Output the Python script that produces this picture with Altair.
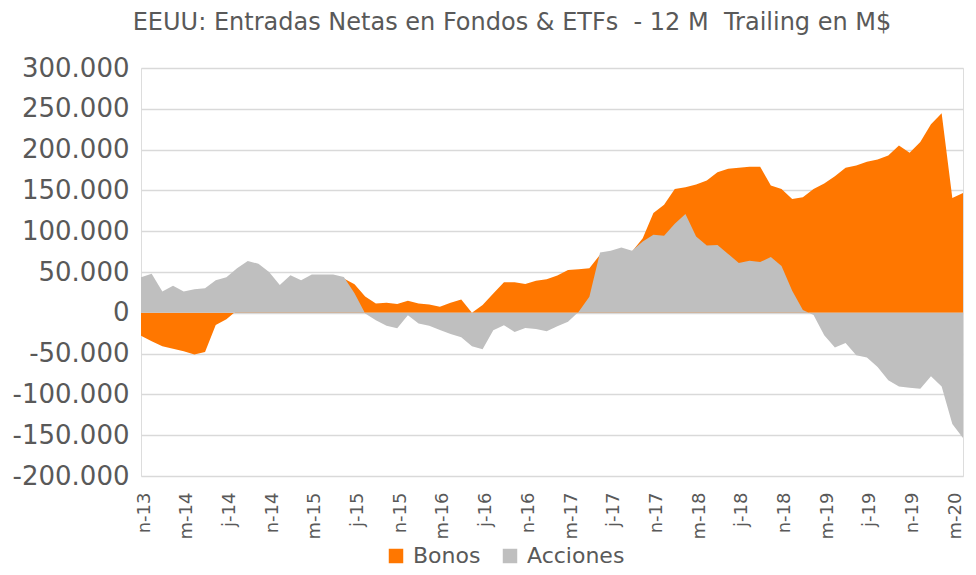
import altair as alt
import pandas as pd

# Month index 0..77 : Nov-2013 .. Apr-2020
meses = [d.strftime("%Y-%m") for d in pd.date_range("2013-11-01", "2020-04-01", freq="MS")]

tick_labels = ["n-13", "m-14", "j-14", "n-14", "m-15", "j-15", "n-15", "m-16", "j-16", "n-16",
               "m-17", "j-17", "n-17", "m-18", "j-18", "n-18", "m-19", "j-19", "n-19", "m-20"]

# values in thousands of M$
bonos = [-28, -35, -41, -44, -47, -51, -48, -15, -8, 3,
         8, 12, 16, 20, 24, 28, 32, 36, 40, 42,
         35, 20, 11.5, 12.3, 10.7, 14.8, 11.5, 10.3, 7.4, 12.3,
         16.4, 0, 9.5, 23.8, 37.4, 37.4, 35.3, 39.4, 41.1, 45.6,
         52.6, 53.4, 54.6, 71, 72, 74, 75, 91.5, 122.3, 132.5,
         151.8, 153.8, 157.1, 162, 172.3, 176.5, 177.8, 179, 179, 155.9,
         151.8, 139.5, 141.6, 151.8, 158.4, 167.4, 177.7, 180.5, 185, 188,
         192.8, 205.1, 196.2, 209.2, 231, 244.5, 140.8, 146.9]

acciones = [43.6, 48, 26, 33, 26, 29, 30, 40, 43.6, 54.6,
            63.6, 60, 50, 34, 46, 40, 47, 47, 47, 44,
            24, -1, -9, -16, -19, -3, -13, -16, -21, -26,
            -30, -41, -44.7, -21.4, -15.2, -23.4, -18.5, -19.7, -22.6, -16.4,
            -11.1, 1.2, 19.6, 73.9, 76, 80, 76, 87.4, 95.5, 94.3,
            109.2, 121, 93.5, 82.4, 83.2, 72.2, 61, 63.8, 62.2, 68.4,
            57.5, 27, 3.3, -2.8, -27.5, -42.6, -36.9, -52, -54.9, -66.5,
            -82.8, -90.2, -91.8, -93, -77.9, -90.2, -136.2, -153.4]

rows = []
for i, m in enumerate(meses):
    rows.append({"i": i, "mes": m, "serie": "Bonos", "valor": bonos[i] * 1000})
    rows.append({"i": i, "mes": m, "serie": "Acciones", "valor": acciones[i] * 1000})
df = pd.DataFrame(rows)

TXT = "#595959"
label_expr = "[" + ",".join("'" + t + "'" for t in tick_labels) + "][datum.value / 4]"

x_enc = alt.X("i:Q",
              scale=alt.Scale(domain=[0, len(meses) - 1], nice=False, zero=False),
              axis=alt.Axis(values=list(range(0, 77, 4)), labelExpr=label_expr,
                            labelAngle=270, labelFontSize=18, labelColor=TXT,
                            labelFont="DejaVu Sans", labelPadding=16, labelOffset=3,
                            grid=False, ticks=False, domain=False, title=None))
y_axis = alt.Axis(values=list(range(-200000, 300001, 50000)), format=",.0f",
                  labelFontSize=26, labelColor=TXT, labelFont="DejaVu Sans",
                  labelPadding=12, grid=True, gridColor="#d9d9d9",
                  gridWidth=1.3, ticks=False, domain=False, title=None)
y_scale = alt.Scale(domain=[-200000, 300000], nice=False)
color_enc = alt.Color("serie:N",
                      scale=alt.Scale(domain=["Bonos", "Acciones"], range=["#FF7700", "#BFBFBF"]),
                      legend=alt.Legend(orient="none", legendX=244, legendY=477,
                                        direction="horizontal", title=None,
                                        symbolType="square", symbolSize=210,
                                        symbolStrokeWidth=0, symbolOpacity=1,
                                        labelFontSize=22, labelColor=TXT,
                                        labelFont="DejaVu Sans", columnPadding=18,
                                        labelOffset=6))

base = alt.Chart(df)
bon = base.transform_filter(alt.datum.serie == "Bonos").mark_area(opacity=1).encode(
    x=x_enc, y=alt.Y("valor:Q", stack=None, scale=y_scale, axis=y_axis), color=color_enc)
acc = base.transform_filter(alt.datum.serie == "Acciones").mark_area(opacity=1).encode(
    x=x_enc, y=alt.Y("valor:Q", stack=None, scale=y_scale, axis=y_axis), color=color_enc)

titulo = "EEUU: Entradas Netas en Fondos & ETFs \u00a0- 12 M \u00a0Trailing en M$"

chart = alt.layer(bon, acc).properties(
    width=822, height=408,
    autosize=alt.AutoSizeParams(type="none"),
    padding={"left": 133, "top": 60, "right": 5, "bottom": 91},
    title=alt.Title(titulo, fontSize=24, font="DejaVu Sans", fontWeight="normal", color=TXT,
                    anchor="middle", dx=-40, offset=20),
).configure_view(stroke=None).configure(
    locale={"number": {"decimal": ",", "thousands": ".", "grouping": [3],
                       "currency": ["", "$"], "minus": "-"}}
)

chart.save("out.html", embed_options={"renderer": "svg", "actions": False})
